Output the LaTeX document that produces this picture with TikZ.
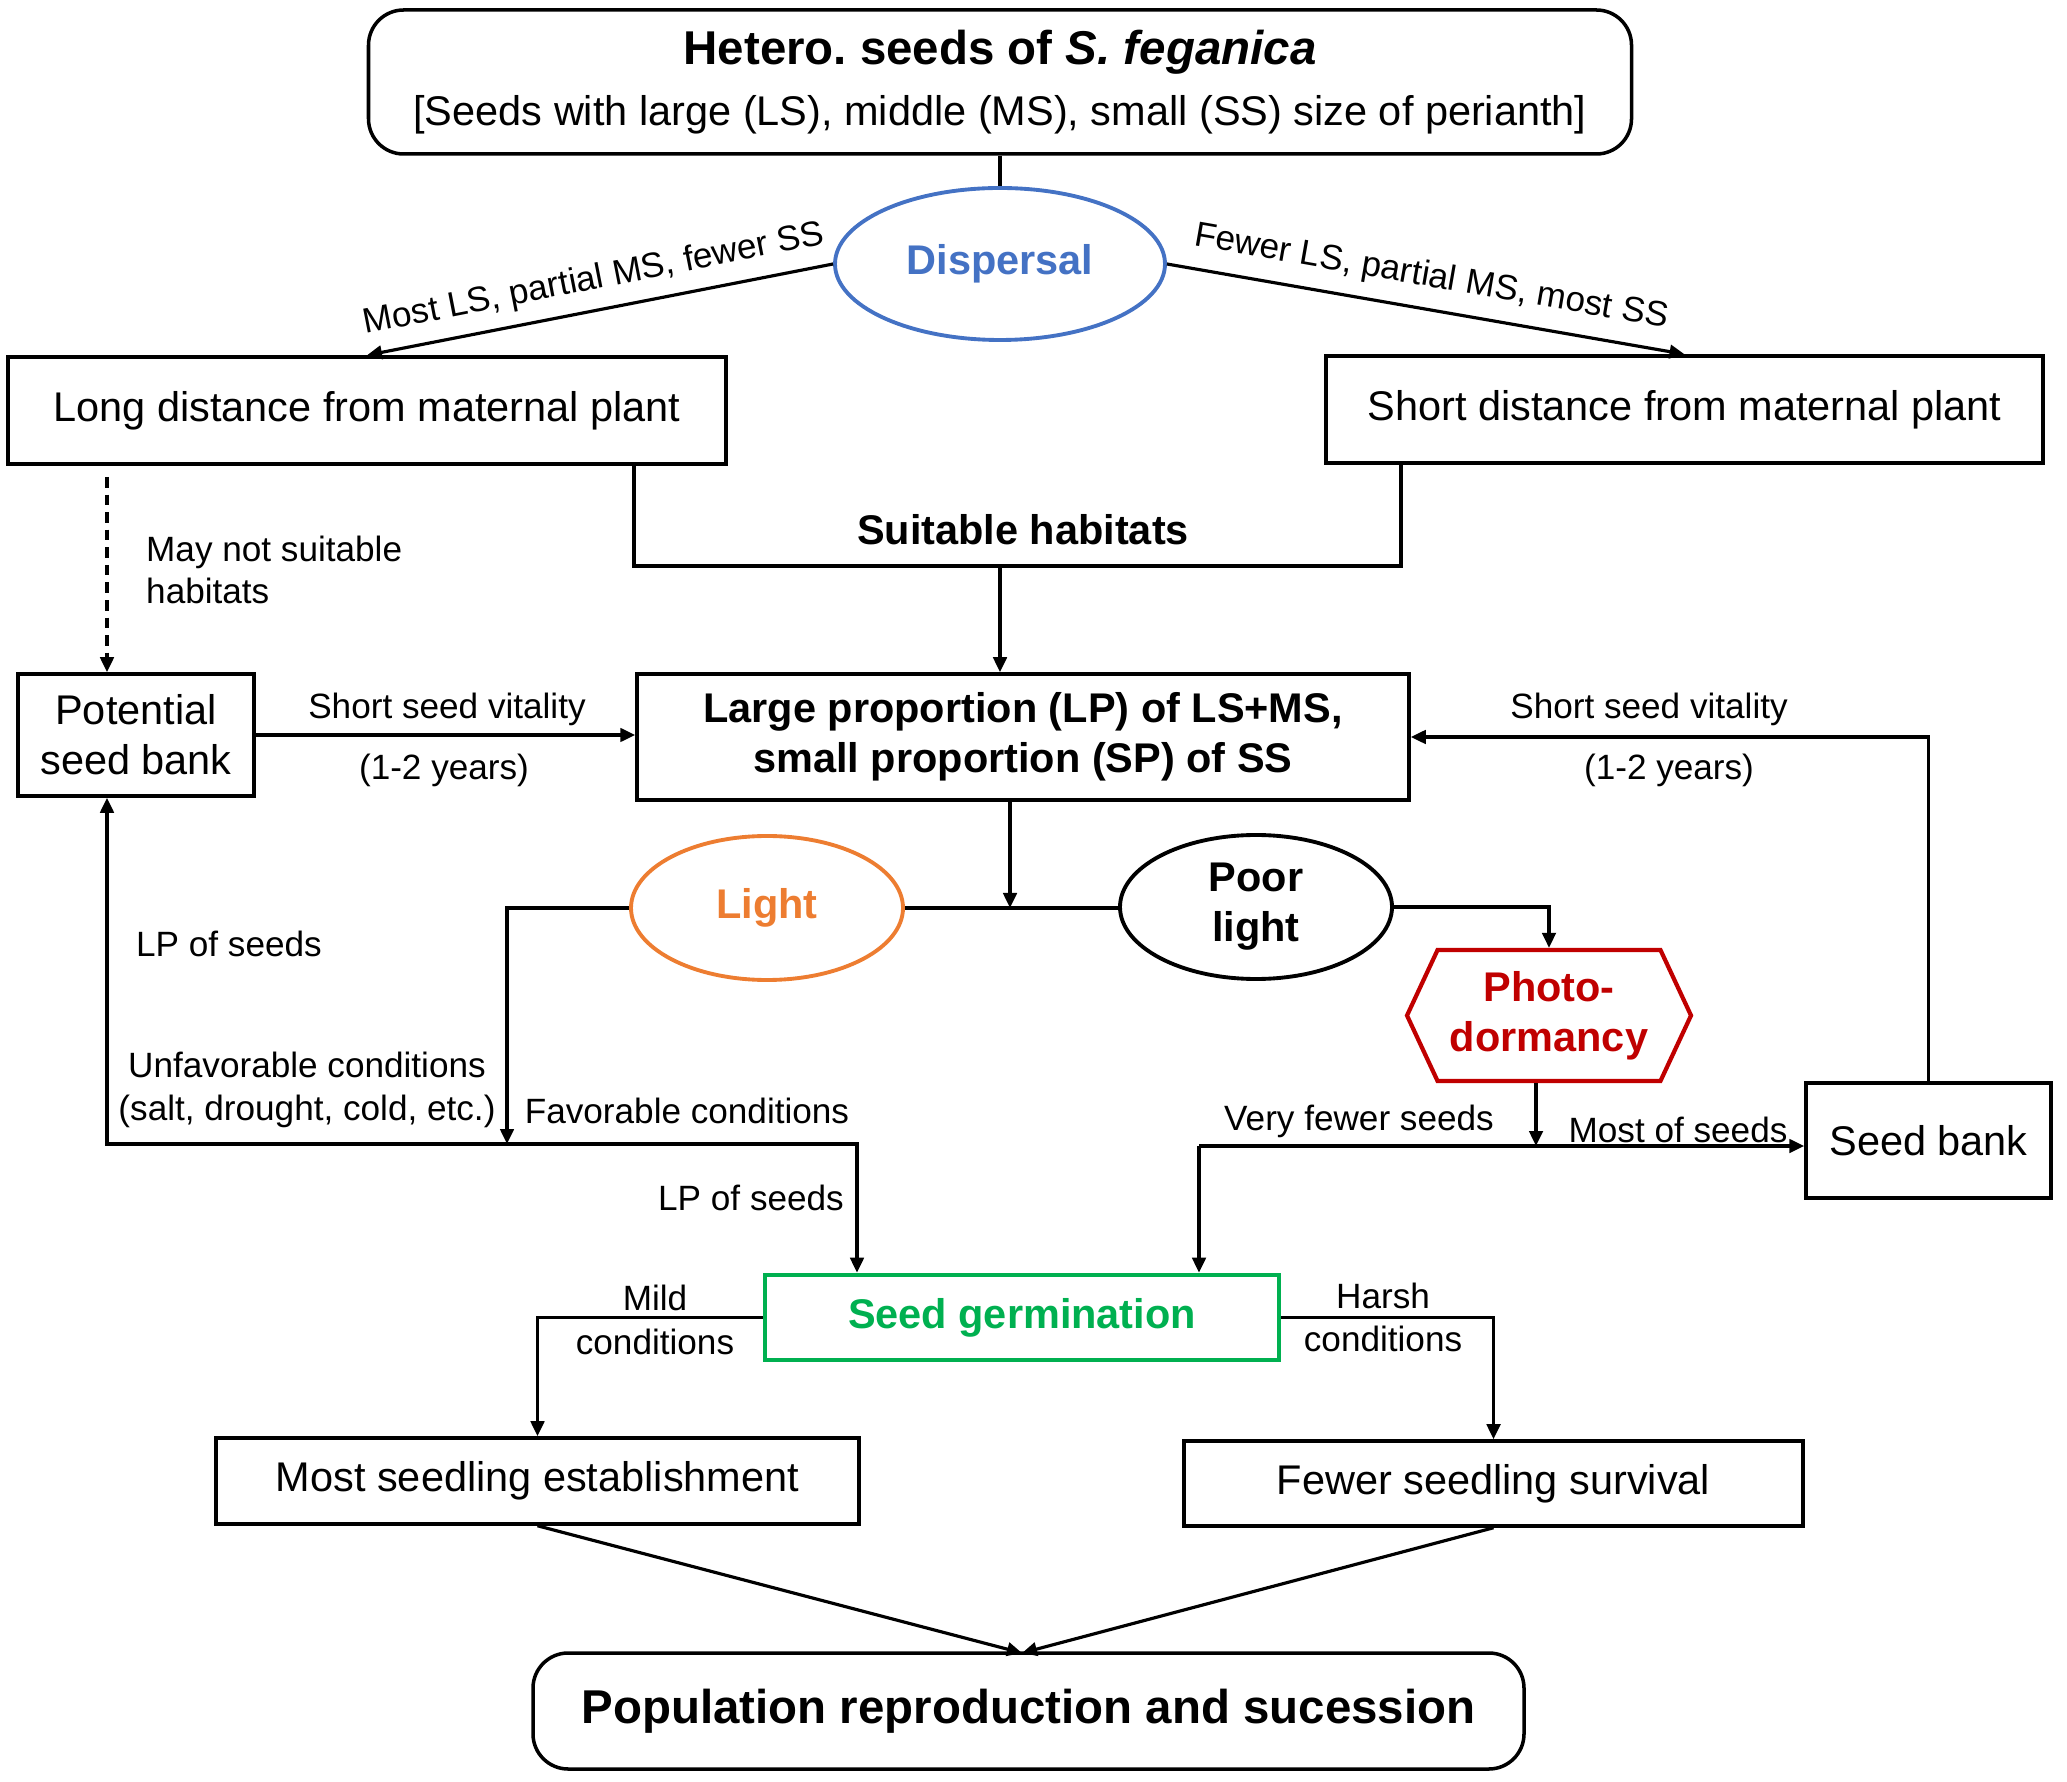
\documentclass[tikz,border=0pt]{standalone}
\usepackage{fontspec}
\setmainfont{Liberation Sans}
\usetikzlibrary{shapes.geometric, shapes.symbols, arrows.meta}
\definecolor{dispblue}{HTML}{4472C4}
\definecolor{lightorange}{HTML}{ED7D31}
\definecolor{photored}{HTML}{C00000}
\definecolor{germgreen}{HTML}{00B050}
\tikzset{
    box/.style = {draw, line width = 1pt, align = center, inner sep = 0pt, font = \fontsize{11.8}{14.2}\selectfont},
    oval/.style = {ellipse, draw, line width = 1.1pt, align = center, inner sep = 0pt, font = \bfseries\fontsize{11.8}{14.2}\selectfont},
    lbl/.style = {align = center, inner sep = 1pt, font = \fontsize{10}{12.2}\selectfont},
    link/.style = {line width = 0.9pt},
    arr/.style = {line width = 0.9pt, -{Triangle[length = 1.5mm, width = 1.35mm]}}
}
\frenchspacing
\begin{document}
\begin{tikzpicture}
\useasboundingbox (0,0) rectangle (20.67,-17.82);
%boxes
    \node[box, rounded corners = 10pt, minimum width = 12.63cm, minimum height = 1.44cm] (top) at (10.0,-0.82) {{\bfseries\fontsize{13.5}{16}\selectfont Hetero. seeds of \textit{S. feganica}}\\[3pt][Seeds with large (LS), middle (MS), small (SS) size of perianth]};
    \node[oval, draw = dispblue, text = dispblue, minimum width = 3.30cm, minimum height = 1.52cm] (disp) at (10.0,-2.64) {Dispersal};
    \node[box, minimum width = 7.18cm, minimum height = 1.07cm] (long) at (3.67,-4.105) {Long distance from maternal plant};
    \node[box, minimum width = 7.17cm, minimum height = 1.07cm] (short) at (16.845,-4.095) {Short distance from maternal plant};
    \node[box, minimum width = 2.36cm, minimum height = 1.22cm] (pot) at (1.36,-7.35) {Potential\\seed bank};
    \node[box, font = \bfseries\fontsize{11.8}{14.2}\selectfont, minimum width = 7.72cm, minimum height = 1.26cm] (lp) at (10.23,-7.37) {Large proportion (LP) of LS+MS,\\small proportion (SP) of SS};
    \node[box, minimum width = 2.45cm, minimum height = 1.15cm] (bank) at (19.285,-11.405) {Seed bank};
    \node[oval, draw = lightorange, text = lightorange, minimum width = 2.72cm, minimum height = 1.44cm] (light) at (7.67,-9.08) {Light};
    \node[oval, minimum width = 2.72cm, minimum height = 1.44cm] (poor) at (12.56,-9.07) {Poor\\light};
    \node[signal, signal to = east and west, signal pointer angle = 130, draw = photored, text = photored, line width = 1.2pt, align = center, inner sep = 0pt, font = \bfseries\fontsize{11.8}{14.2}\selectfont, minimum width = 2.84cm, minimum height = 1.31cm] (photo) at (15.49,-10.155) {Photo-\\dormancy};
    \node[box, draw = germgreen, text = germgreen, line width = 1.3pt, font = \bfseries\fontsize{11.8}{14.2}\selectfont, minimum width = 5.14cm, minimum height = 0.85cm] (germ) at (10.22,-13.175) {Seed germination};
    \node[box, minimum width = 6.43cm, minimum height = 0.86cm] (most) at (5.375,-14.81) {Most seedling establishment};
    \node[box, minimum width = 6.19cm, minimum height = 0.85cm] (fewer) at (14.935,-14.835) {Fewer seedling survival};
    \node[box, rounded corners = 10pt, font = \bfseries\fontsize{13.5}{16}\selectfont, minimum width = 9.91cm, minimum height = 1.16cm] (pop) at (10.285,-17.11) {Population reproduction and sucession};
%coordinate
    \coordinate (h1) at (6.34,-5.66); \coordinate (h2) at (14.01,-5.66); \coordinate (hab) at (10.0,-5.66);
    \coordinate (pd) at (1.07,-4.77); \coordinate (lj) at (10.10,-9.08);
    \coordinate (fj) at (5.07,-11.44); \coordinate (uj) at (1.07,-11.44); \coordinate (gj) at (8.57,-11.44);
    \coordinate (dj) at (15.36,-11.46); \coordinate (vj) at (11.99,-11.46);
    \coordinate (pj) at (10.22,-16.53);
%connectors
    \draw[link] (top.south) -- (disp.north);
    \draw[arr] (disp.west) -- (long.north) node[lbl, midway, sloped, above = 2.5pt] (dl) {Most LS, partial MS, fewer SS};
    \draw[arr] (disp.east) -- (short.north) node[lbl, midway, sloped, above = 3pt] (dr) {Fewer LS, partial MS, most SS};
    \draw[link] (long.south -| h1) -- (h1) -- (h2) -- (short.south -| h2);
    \draw[arr] (hab) -- (hab |- lp.north);
    \draw[arr, dash pattern = on 3pt off 2pt] (pd) -- (pd |- pot.north);
    \draw[arr] (pot.east) -- (pot.east -| lp.west);
    \draw[arr] (bank.north) |- (lp.east);
    \draw[arr] (lj |- lp.south) -- (lj);
    \draw[link] (light.east) -- (light.east -| poor.west);
    \draw[arr] (light.west) -| (fj);
    \draw[arr] (fj) -- (uj) -- (uj |- pot.south);
    \draw[arr] (fj) -- (gj) -- (gj |- germ.north);
    \draw[arr] (poor.east) -| (photo.north);
    \draw[arr] (dj |- photo.south) -- (dj);
    \draw[arr] (vj) -- (vj -| bank.west);
    \draw[arr] (vj) -- (vj |- germ.north);
    \draw[arr] (germ.west) -| (most.north);
    \draw[arr] (germ.east) -| (fewer.north);
    \draw[arr] (most.south) -- (pj); \draw[arr] (fewer.south) -- (pj);
%labels
    \node[lbl, font = \bfseries\fontsize{11.8}{14.2}\selectfont] (suit) at (10.23,-5.30) {Suitable habitats};
    \node[lbl, anchor = west, align = left] (notsuit) at (1.42,-5.70) {May not suitable\\habitats};
    \node[lbl] (vit1) at (4.47,-7.09) {Short seed vitality}; \node[lbl] (yr1) at (4.44,-7.70) {(1-2 years)};
    \node[lbl] (vit2) at (16.49,-7.09) {Short seed vitality}; \node[lbl] (yr2) at (16.69,-7.70) {(1-2 years)};
    \node[lbl] (lps1) at (2.29,-9.44) {LP of seeds};
    \node[lbl] (unfav) at (3.07,-10.895) {Unfavorable conditions\\(salt, drought, cold, etc.)};
    \node[lbl] (fav) at (6.87,-11.11) {Favorable conditions};
    \node[lbl] (lps2) at (7.51,-11.98) {LP of seeds};
    \node[lbl] (vfew) at (13.59,-11.21) {Very fewer seeds}; \node[lbl] (mos) at (16.78,-11.30) {Most of seeds};
    \node[lbl] (mild) at (6.55,-12.98) {Mild}; \node[lbl] (mildc) at (6.55,-13.42) {conditions};
    \node[lbl] (harsh) at (13.83,-12.96) {Harsh}; \node[lbl] (harshc) at (13.83,-13.39) {conditions};
\end{tikzpicture}
\end{document}
